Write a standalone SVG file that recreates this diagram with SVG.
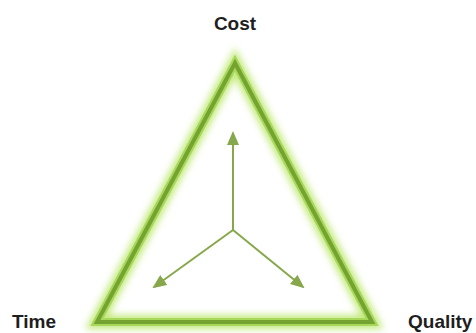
<svg xmlns="http://www.w3.org/2000/svg" width="476" height="333" viewBox="0 0 476 333">
  <style>
    .lbl { font-family: "Liberation Sans", Arial, sans-serif; font-weight: bold; font-size: 19px; fill: #1e1e1e; }
    .arrow { stroke: #86a84a; stroke-width: 2; fill: none; }
  </style>
  <defs>
    <filter id="glow" x="-20%" y="-20%" width="140%" height="140%">
      <feGaussianBlur stdDeviation="3.5"/>
    </filter>
    <marker id="ah" markerWidth="14" markerHeight="12" refX="12" refY="6" orient="auto" markerUnits="userSpaceOnUse">
      <path d="M0,0 L14,6 L0,12 Z" fill="#86a84a"/>
    </marker>
  </defs>
  <rect width="476" height="333" fill="#ffffff"/>
  <g id="triangle">
    <polygon points="235,63 97,322 372,322" fill="none" stroke="#c4ea80" stroke-width="14" stroke-linejoin="miter" filter="url(#glow)"/>
    <polygon points="235,63 97,322 372,322" fill="none" stroke="#a8d85a" stroke-width="8" stroke-linejoin="miter"/>
    <polygon points="235,63 97,322 372,322" fill="none" stroke="#74a332" stroke-width="4" stroke-linejoin="miter"/>
  </g>
  <g id="connectors">
    <line class="arrow" x1="233" y1="230" x2="233" y2="133" marker-end="url(#ah)"/>
    <line class="arrow" x1="233" y1="230" x2="154" y2="287" marker-end="url(#ah)"/>
    <line class="arrow" x1="233" y1="230" x2="303" y2="287" marker-end="url(#ah)"/>
  </g>
  <g id="cost"><text class="lbl" x="235" y="30" text-anchor="middle">Cost</text></g>
  <g id="time"><text class="lbl" x="12" y="328">Time</text></g>
  <g id="quality"><text class="lbl" x="408" y="328">Quality</text></g>
</svg>
